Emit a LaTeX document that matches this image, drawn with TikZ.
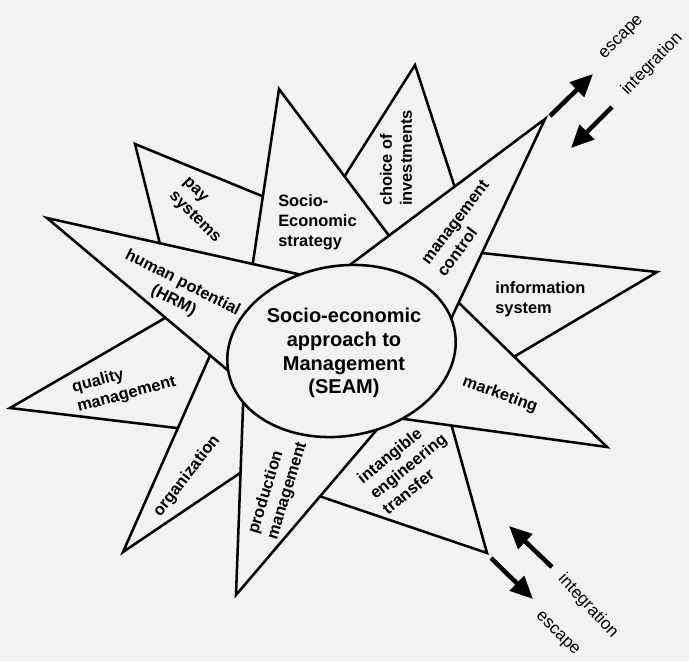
\documentclass[tikz,border=0pt]{standalone}
\usepackage{fontspec}
\setmainfont{Liberation Sans}
\usetikzlibrary{arrows.meta}
\definecolor{paper}{RGB}{242,242,242}

\begin{document}
\begin{tikzpicture}[x=0.75pt,y=0.75pt,yscale=-1,xscale=1,
  spike/.style={line width=1.9pt,line cap=round},
  lbl/.style={inner sep=0.75pt,align=left,font=\bfseries\fontsize{12.3}{15}\selectfont},
  flow/.style={line width=3.4pt,-{Triangle[length=17pt,width=15pt]}},
  flowlbl/.style={inner sep=0.75pt,font=\fontsize{12.8}{15}\selectfont}]
%set diagram area 689 x 661
\fill[paper,use as bounding box] (0,0) rectangle (689,661);

%Tips of the spikes
\coordinate (hrmT) at (47,218);
\coordinate (payT) at (135,144);
\coordinate (strT) at (279,89);
\coordinate (invT) at (415,65);
\coordinate (ctlT) at (545,119);
\coordinate (infT) at (657,272);
\coordinate (mktT) at (607,447);
\coordinate (iegT) at (487,553);
\coordinate (proT) at (236,595);
\coordinate (orgT) at (123,552);
\coordinate (qmT) at (10,408);
%Feet that run under the ellipse
\coordinate (hrmA) at (311,277);
\coordinate (hrmB) at (237,378);
\coordinate (ctlA) at (343,270);
\coordinate (ctlB) at (450,321);
\coordinate (mktB) at (397,418);
\coordinate (proA) at (243.3,399);
\coordinate (proB) at (380,426);
%Guide points for the feet that rest on a neighbour
\coordinate (strG) at (253,262);
\coordinate (strH) at (387,233);
\coordinate (payG) at (159,240);
\coordinate (payH) at (262,196);
\coordinate (invG) at (346,174);
\coordinate (invH) at (454,185);
\coordinate (infG) at (482,253);
\coordinate (infH) at (517,355);
\coordinate (mktG) at (459,303);
\coordinate (iegG) at (322,497);
\coordinate (iegH) at (452,427);
\coordinate (orgG) at (208,360);
\coordinate (orgH) at (240,473);
\coordinate (qmG) at (165,318);
\coordinate (qmH) at (177,428);
%Feet
\coordinate (strA) at (intersection of strT--strG and hrmT--hrmA);
\coordinate (strB) at (intersection of strT--strH and ctlT--ctlA);
\coordinate (payA) at (intersection of payT--payG and hrmT--hrmA);
\coordinate (payB) at (intersection of payT--payH and strT--strG);
\coordinate (invA) at (intersection of invT--invG and strT--strH);
\coordinate (invB) at (intersection of invT--invH and ctlT--ctlA);
\coordinate (infA) at (intersection of infT--infG and ctlT--ctlB);
\coordinate (mktA) at (intersection of mktT--mktG and ctlT--ctlB);
\coordinate (infB) at (intersection of infT--infH and mktT--mktG);
\coordinate (iegA) at (intersection of iegT--iegG and proT--proB);
\coordinate (iegB) at (intersection of iegT--iegH and mktT--mktB);
\coordinate (orgA) at (intersection of orgT--orgG and hrmT--hrmB);
\coordinate (orgB) at (intersection of orgT--orgH and proT--proA);
\coordinate (qmA) at (intersection of qmT--qmG and hrmT--hrmB);
\coordinate (qmB) at (intersection of qmT--qmH and orgT--orgG);

%Spike: human potential
\draw[spike] (hrmA) -- (hrmT) -- (hrmB);
%Spike: pay systems
\draw[spike] (payA) -- (payT) -- (payB);
%Spike: strategy
\draw[spike] (strA) -- (strT) -- (strB);
%Spike: investments
\draw[spike] (invA) -- (invT) -- (invB);
%Spike: management control
\draw[spike] (ctlA) -- (ctlT) -- (ctlB);
%Spike: information system
\draw[spike] (infA) -- (infT) -- (infB);
%Spike: marketing
\draw[spike] (mktA) -- (mktT) -- (mktB);
%Spike: intangible engineering
\draw[spike] (iegA) -- (iegT) -- (iegB);
%Spike: production
\draw[spike] (proA) -- (proT) -- (proB);
%Spike: organization
\draw[spike] (orgA) -- (orgT) -- (orgB);
%Spike: quality
\draw[spike] (qmA) -- (qmT) -- (qmB);

%Shape: Ellipse
\filldraw[spike,fill=paper,rotate around={-10:(341.5,351)}] (341.5,351) ellipse [x radius=115,y radius=85];

% Text Node
\draw (344,353) node (seam) [lbl,align=center,font=\bfseries\fontsize{15}{17.8}\selectfont] {Socio-economic\\approach to\\Management\\(SEAM)};
% Text Node
\draw (178,292) node (hrmL) [lbl,align=center,rotate=-27] {human potential\\(HRM)};
% Text Node
\draw (201,211) node (payL) [lbl,rotate=-45] {pay\\systems};
% Text Node
\draw (277,222) node (strL) [lbl,anchor=west] {Socio-\\Economic\\strategy};
% Text Node
\draw (396,158) node (invL) [lbl,rotate=90] {choice of\\investments};
% Text Node
\draw (463,228) node (ctlL) [lbl,rotate=53] {management\\control};
% Text Node
\draw (494,299) node (infL) [lbl,anchor=west] {information\\system};
% Text Node
\draw (500,395) node (mktL) [lbl,rotate=-20] {marketing};
% Text Node
\draw (408,466) node (iegL) [lbl,rotate=39] {intangible\\engineering\\transfer};
% Text Node
\draw (278,488) node (proL) [lbl,rotate=73] {production\\management};
% Text Node
\draw (187,476) node (orgL) [lbl,rotate=52] {organization};
% Text Node
\draw (124,385) node (qmL) [lbl,rotate=15] {quality\\management};

%Arrows: escape / integration
\coordinate (escN0) at (550,116);
\coordinate (escN1) at (593,74);
\coordinate (intN0) at (612,107);
\coordinate (intN1) at (571,148);
\coordinate (escS0) at (491,558);
\coordinate (escS1) at (533,599);
\coordinate (intS0) at (552,567);
\coordinate (intS1) at (509,526);
\draw[flow] (escN0) -- (escN1);
\draw[flow] (intN0) -- (intN1);
\draw[flow] (escS0) -- (escS1);
\draw[flow] (intS0) -- (intS1);

% Text Node
\draw (622,38) node (escNL) [flowlbl,rotate=45] {escape};
% Text Node
\draw (652,64) node (intNL) [flowlbl,rotate=46] {integration};
% Text Node
\draw (588,606) node (intSL) [flowlbl,rotate=-47] {integration};
% Text Node
\draw (557,634) node (escSL) [flowlbl,rotate=-45] {escape};

\end{tikzpicture}
\end{document}
